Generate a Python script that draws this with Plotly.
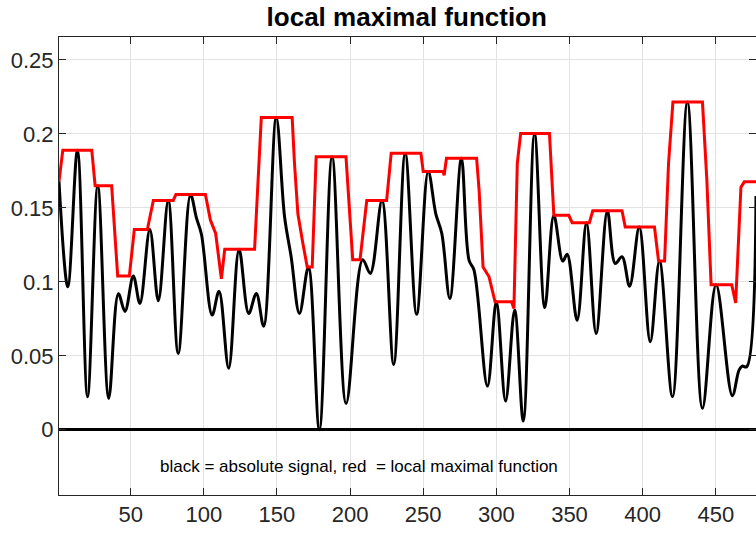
import plotly.graph_objects as go

# absolute signal (black) – key points
black_x = [1, 7.0, 13.6, 20.5, 27.5, 35.0, 41.6, 46.1, 51.8, 56.3, 63.1, 68.9, 75.7, 82.5,
           90.9, 95.0, 98.4, 105.7, 110.4, 117.0, 124.1, 130.7, 135.9, 140.9, 149.5, 155.2,
           159.7, 165.4, 171.5, 179.0, 187.7, 197.3, 208.6, 213.8, 221.8, 229.8, 237.7, 245.5,
           253.4, 258.6, 262.7, 268.2, 276.1, 281.3, 284.7, 293.9, 300.0, 306.3, 312.5, 318.4,
           326.1, 333.1, 339.3, 345.4, 348.4, 355.2, 361.6, 368.2, 375.9, 381.3, 385.9, 391.1,
           397.7, 405.2, 411.5, 420.4, 430.6, 440.9, 450.2, 461.3, 465.9, 468.1, 471.1, 477.5]
black_y = [0.168, 0.0966, 0.189, 0.0223, 0.165, 0.0212, 0.092, 0.080, 0.104, 0.0854, 0.1354, 0.0872, 0.155, 0.0516,
           0.159, 0.143, 0.132, 0.0775, 0.0937, 0.0415, 0.122, 0.0786, 0.0921, 0.070, 0.211, 0.144,
           0.117, 0.0786, 0.110, 0.0, 0.1845, 0.0178, 0.115, 0.1057, 0.155, 0.0442, 0.187, 0.078,
           0.1745, 0.146, 0.1327, 0.0888, 0.1835, 0.1147, 0.108, 0.0295, 0.0865, 0.0194, 0.0809, 0.0059,
           0.2003, 0.0824, 0.145, 0.114, 0.1187, 0.074, 0.140, 0.0651, 0.148, 0.1124, 0.117, 0.097,
           0.137, 0.0595, 0.114, 0.0223, 0.2215, 0.0145, 0.098, 0.023, 0.0403, 0.043, 0.0426, 0.158]

# local maximal function (red) – breakpoints
red_x = [1, 3.6, 23.4, 25.7, 37.0, 41.1, 49.1, 52.5, 61.4, 65.5, 79.1, 80.9, 101.1, 104.5, 108.1,
         112.0, 114.3, 134.7, 139.3, 160.4, 162.0, 164.3, 167.7, 170.7, 174.1, 176.8, 197.2, 201.8,
         206.8, 211.4, 225.0, 228.1, 248.4, 250.0, 263.6, 264.3, 265.9, 286.5, 288.2, 290.9, 295.0,
         299.1, 310.4, 312.0, 314.3, 316.6, 336.3, 339.3, 349.5, 351.8, 363.6, 365.9, 385.9, 388.1,
         408.1, 410.9, 415.0, 417.7, 420.7, 440.9, 443.9, 446.8, 460.9, 463.6, 467.2, 469.5, 477.5]
red_y = [0.168, 0.189, 0.189, 0.165, 0.165, 0.104, 0.104, 0.1354, 0.1354, 0.155, 0.155, 0.159, 0.159, 0.1417, 0.1327,
         0.102, 0.122, 0.122, 0.211, 0.211, 0.18, 0.146, 0.126, 0.110, 0.110, 0.1845, 0.1845, 0.115,
         0.115, 0.155, 0.155, 0.187, 0.187, 0.1745, 0.1745, 0.172, 0.1835, 0.1835, 0.162, 0.110, 0.1034,
         0.0865, 0.0865, 0.082, 0.18, 0.2003, 0.2003, 0.145, 0.145, 0.140, 0.140, 0.148, 0.148, 0.137,
         0.137, 0.114, 0.114, 0.18, 0.2215, 0.2215, 0.1687, 0.098, 0.098, 0.0858, 0.164, 0.1676, 0.1676]

x_ticks = [50, 100, 150, 200, 250, 300, 350, 400, 450]
y_ticks = [0, 0.05, 0.1, 0.15, 0.2, 0.25]
y_tick_text = ["0", "0.05", "0.1", "0.15", "0.2", "0.25"]

fig = go.Figure()
fig.add_trace(go.Scatter(x=black_x, y=black_y, mode="lines",
                         line=dict(color="black", width=3, shape="spline", smoothing=1.0),
                         showlegend=False))
fig.add_trace(go.Scatter(x=red_x, y=red_y, mode="lines",
                         line=dict(color="red", width=3),
                         showlegend=False))

fig.add_annotation(x=68.4, y=-0.0245, xref="x", yref="y", xanchor="left", yanchor="middle",
                   text="black = absolute signal, red  = local maximal function",
                   showarrow=False, font=dict(family="Liberation Sans, Arial", size=17, color="black"))

axis_common = dict(showline=True, linecolor="#262626", linewidth=1, mirror="ticks",
                   ticks="inside", ticklen=7, tickcolor="#262626", automargin=False,
                   showgrid=True, gridcolor="#e3e3e3", gridwidth=1,
                   tickfont=dict(family="Liberation Sans, Arial", size=22, color="#262626"))

fig.update_xaxes(range=[1, 477.5], tickvals=x_ticks, zeroline=False, **axis_common)
fig.update_yaxes(range=[-0.0441, 0.2655], tickvals=y_ticks, ticktext=y_tick_text,
                 zeroline=True, zerolinecolor="black", zerolinewidth=3, **axis_common)

fig.update_layout(
    width=756, height=534,
    margin=dict(l=59, r=0, t=37, b=39, autoexpand=False),
    paper_bgcolor="white", plot_bgcolor="white",
    title=dict(text="<b>local maximal function</b>", x=0.538, xanchor="center",
               y=0.968, yanchor="middle", yref="container",
               font=dict(family="Liberation Sans, Arial", size=26, color="black")),
)

fig.write_html("out.html", config={"displayModeBar": False},
               post_script="document.body.style.margin='0';document.body.style.overflow='hidden';")
